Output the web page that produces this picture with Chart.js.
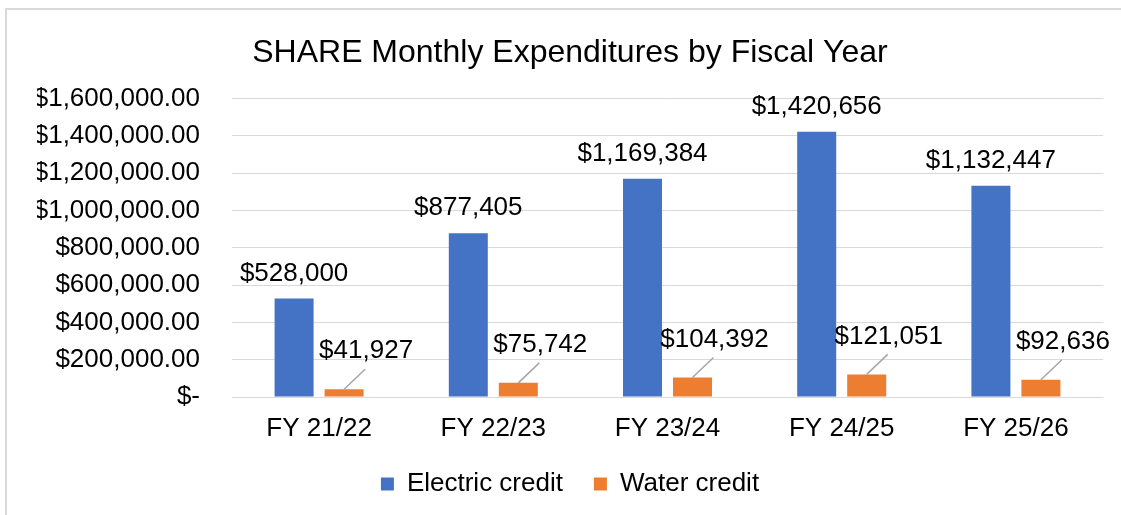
<!DOCTYPE html>
<html>
<head>
<meta charset="utf-8">
<script src="https://cdn.jsdelivr.net/npm/chart.js@4"></script>
<style>
  html, body { margin: 0; padding: 0; background: #fff; overflow: hidden; }
  #frame {
    position: absolute; left: 5px; top: 8px; width: 1140px; height: 540px;
    border: 2px solid #d9d9d9; box-sizing: border-box;
  }
  #wrap { position: absolute; left: 0; top: 0; width: 1121px; height: 515px; }
</style>
</head>
<body>
<div id="frame"></div>
<div id="wrap"><canvas id="chart" width="1121" height="515"></canvas></div>
<script>
const categories = ['FY 21/22', 'FY 22/23', 'FY 23/24', 'FY 24/25', 'FY 25/26'];
const electricCredit = [528000, 877405, 1169384, 1420656, 1132447];
const waterCredit = [41927, 75742, 104392, 121051, 92636];
const seriesNames = ['Electric credit', 'Water credit'];

const FONT = "'Liberation Sans', Arial, sans-serif";

function fmtMoney(v, decimals) {
    if (v === 0) return '$-';
    return '$' + v.toLocaleString('en-US', { minimumFractionDigits: decimals, maximumFractionDigits: decimals });
}

// value labels: electric above the bar, water offset up-right with a leader line
const valueLabels = {
    id: 'valueLabels',
    afterDatasetsDraw(chart) {
        const ctx = chart.ctx;
        ctx.save();
        ctx.font = '26px ' + FONT;
        ctx.fillStyle = '#000';
        ctx.textAlign = 'center';
        ctx.textBaseline = 'middle';
        chart.data.datasets.forEach((ds, i) => {
            const meta = chart.getDatasetMeta(i);
            meta.data.forEach((bar, j) => {
                const text = fmtMoney(ds.data[j], 0);
                if (i === 0) {
                    ctx.fillText(text, bar.x, bar.y - 25);
                } else {
                    ctx.strokeStyle = '#a6a6a6';
                    ctx.lineWidth = 1.5;
                    ctx.beginPath();
                    ctx.moveTo(bar.x, bar.y);
                    ctx.lineTo(bar.x + 21, bar.y - 20);
                    ctx.stroke();
                    ctx.fillText(text, bar.x + 22, bar.y - 38);
                }
            });
        });
        ctx.restore();
    }
};

new Chart(document.getElementById('chart').getContext('2d'), {
    type: 'bar',
    data: {
        labels: categories,
        datasets: [{
            label: seriesNames[0],
            data: electricCredit,
            backgroundColor: '#4472C4',
            categoryPercentage: 0.574,
            barPercentage: 0.78
        }, {
            label: seriesNames[1],
            data: waterCredit,
            backgroundColor: '#ED7D31',
            categoryPercentage: 0.574,
            barPercentage: 0.78
        }]
    },
    options: {
        responsive: false,
        animation: false,
        layout: {
            padding: { left: 37, right: 18, top: 0, bottom: 8 }
        },
        scales: {
            x: {
                grid: { display: false, drawTicks: false },
                border: { display: false },
                ticks: {
                    color: '#000',
                    padding: 16,
                    font: { family: FONT, size: 26 }
                },
                afterFit(scale) { scale.height = 43; }
            },
            y: {
                min: 0,
                max: 1600000,
                grid: { color: '#d9d9d9', lineWidth: 1, drawTicks: false },
                border: { display: false },
                ticks: {
                    stepSize: 200000,
                    color: '#000',
                    padding: 32,
                    font: { family: FONT, size: 26 },
                    callback: v => fmtMoney(v, 2)
                },
                afterFit(scale) { scale.width = 195; }
            }
        },
        plugins: {
            title: {
                display: true,
                text: 'SHARE Monthly Expenditures by Fiscal Year',
                color: '#000',
                font: { family: FONT, size: 32, weight: 'normal' },
                padding: { top: 34, bottom: 26 }
            },
            legend: {
                position: 'bottom',
                labels: {
                    color: '#000',
                    boxWidth: 13,
                    boxHeight: 13,
                    padding: 31,
                    font: { family: FONT, size: 26 }
                }
            },
            tooltip: { enabled: false }
        }
    },
    plugins: [valueLabels]
});
</script>
</body>
</html>
